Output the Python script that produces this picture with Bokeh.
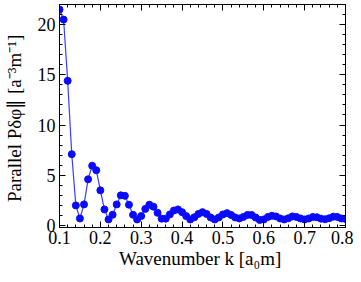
from bokeh.plotting import figure
from bokeh.models import Range1d, SingleIntervalTicker, LinearAxis, CustomLabelingPolicy
from bokeh.embed import file_html
from bokeh.resources import INLINE

k = [0.10, 0.11, 0.12, 0.13, 0.14, 0.15, 0.16, 0.17, 0.18, 0.19,
     0.20, 0.21, 0.22, 0.23, 0.24, 0.25, 0.26, 0.27, 0.28, 0.29,
     0.30, 0.31, 0.32, 0.33, 0.34, 0.35, 0.36, 0.37, 0.38, 0.39,
     0.40, 0.41, 0.42, 0.43, 0.44, 0.45, 0.46, 0.47, 0.48, 0.49,
     0.50, 0.51, 0.52, 0.53, 0.54, 0.55, 0.56, 0.57, 0.58, 0.59,
     0.60, 0.61, 0.62, 0.63, 0.64, 0.65, 0.66, 0.67, 0.68, 0.69,
     0.70, 0.71, 0.72, 0.73, 0.74, 0.75, 0.76, 0.77, 0.78, 0.79, 0.80]
power = [21.5, 20.5, 14.4, 7.1, 2.0, 0.7, 2.1, 4.6, 5.95, 5.5,
         3.5, 1.6, 0.6, 1.07, 2.1, 3.0, 2.95, 2.07, 1.07, 0.6,
         0.94, 1.65, 2.07, 1.87, 1.26, 0.68, 0.68, 1.1, 1.49, 1.6,
         1.33, 0.94, 0.6, 0.82, 1.15, 1.33, 1.15, 0.8, 0.6, 0.8,
         1.1, 1.23, 1.05, 0.8, 0.7, 0.85, 1.05, 1.05, 0.8, 0.55,
         0.6, 0.85, 0.97, 0.9, 0.7, 0.6, 0.72, 0.9, 0.85, 0.7,
         0.6, 0.7, 0.85, 0.82, 0.68, 0.62, 0.72, 0.88, 0.85, 0.7, 0.65]

x_label = "Wavenumber  k [a\u2080m]"
y_label = "Parallel  P\u03b4\u03c6\u2225 [a\u207b\u00b3m\u207b\u00b9]"

FONT = "Liberation Serif"

p = figure(width=353, height=274, output_backend="svg", toolbar_location=None,
           x_range=Range1d(0.1, 0.8), y_range=Range1d(-0.2, 22.0),
           min_border_left=57, min_border_right=8, min_border_top=0, min_border_bottom=47)
p.grid.visible = False
p.outline_line_color = "black"
p.outline_line_width = 1
p.background_fill_color = "white"
p.border_fill_color = "white"

p.xaxis.ticker = SingleIntervalTicker(interval=0.1, num_minor_ticks=5)
p.yaxis.ticker = SingleIntervalTicker(interval=5, num_minor_ticks=5)

for ax in (p.xaxis[0], p.yaxis[0]):
    ax.major_tick_in = 6
    ax.major_tick_out = 0
    ax.minor_tick_in = 3
    ax.minor_tick_out = 0
    ax.axis_line_color = "black"
    ax.major_tick_line_color = "black"
    ax.minor_tick_line_color = "black"
    ax.major_label_text_font = FONT
    ax.major_label_text_font_size = "18px"
    ax.major_label_text_color = "black"
    ax.axis_label_text_font = FONT
    ax.axis_label_text_font_size = "19px"
    ax.axis_label_text_font_style = "normal"
    ax.axis_label_text_color = "black"

p.xaxis.axis_label = x_label
p.yaxis.axis_label = y_label
p.xaxis.major_label_standoff = 3
p.yaxis.major_label_standoff = 4
p.xaxis.axis_label_standoff = 1
p.yaxis.axis_label_standoff = 10

no_labels = CustomLabelingPolicy(code="return new Set()")
right = LinearAxis(ticker=SingleIntervalTicker(interval=5, num_minor_ticks=5))
top = LinearAxis(ticker=SingleIntervalTicker(interval=0.1, num_minor_ticks=5))
for ax in (right, top):
    ax.major_tick_in = 6
    ax.major_tick_out = 0
    ax.minor_tick_in = 3
    ax.minor_tick_out = 0
    ax.major_label_text_font_size = "1px"
    ax.major_label_standoff = 0
    ax.major_label_policy = no_labels
    ax.axis_line_color = "black"
p.add_layout(right, "right")
p.add_layout(top, "above")

p.line(k, power, line_color="#3c3cff", line_width=1.2)
p.scatter(k, power, size=7, fill_color="#0a0aff", line_color="#0a0aff")

open("out.html", "w").write(file_html(p, INLINE))
